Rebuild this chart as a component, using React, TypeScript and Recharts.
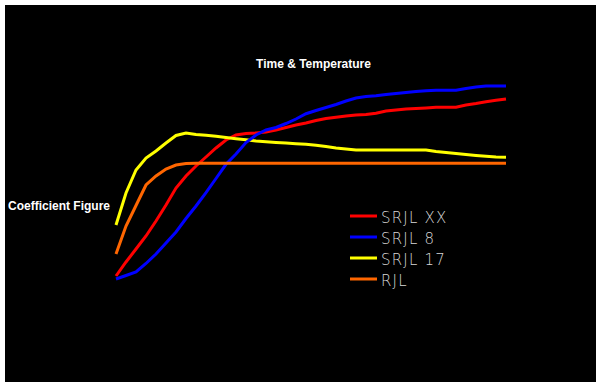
import React from 'react';
import { LineChart, Line, XAxis, YAxis, Legend } from 'recharts';

// x positions are sample indices (0..39), equal spacing along the time axis
const steps = Array.from({ length: 40 }, (_, i) => i);

const srjlXX = [104, 118, 131, 144, 159, 175, 192, 204, 214, 223, 232, 240, 245, 246.5, 247, 248, 250, 252.5, 255, 257, 259.5, 261.5, 262.7, 264, 265, 265.5, 266.7, 269, 270, 271, 271.5, 272, 272.7, 272.7, 272.7, 275, 276.5, 278.3, 279.7, 281];
const srjl8 = [101, 104.5, 108, 116.5, 126, 137, 148, 161.5, 174, 187.4, 201.5, 215.7, 226, 237.5, 245, 250, 252.5, 256.5, 261, 266.3, 269.5, 272.5, 275.5, 279, 282, 283.5, 284.3, 285.5, 286.5, 287.5, 288.5, 289.2, 289.7, 289.7, 289.7, 291.5, 293, 294, 294, 294];
const srjl17 = [155, 187, 210, 222, 229, 237, 244.5, 247, 245.5, 244.7, 243.7, 242.5, 241.3, 240.3, 239, 238.2, 237.5, 237, 236.3, 235.7, 234.7, 233.4, 232, 231, 230, 230, 230, 230, 230, 230, 230, 230, 228.5, 227.5, 226.5, 225.5, 224.5, 223.7, 223, 222.7];
const rjl = [126, 154, 174.5, 195, 204, 211, 215, 216.5, 216.7, 216.7, 216.7, 216.7, 216.7, 216.7, 216.7, 216.7, 216.7, 216.7, 216.7, 216.7, 216.7, 216.7, 216.7, 216.7, 216.7, 216.7, 216.7, 216.7, 216.7, 216.7, 216.7, 216.7, 216.7, 216.7, 216.7, 216.7, 216.7, 216.7, 216.7, 216.7];

const seriesNames = ['SRJL XX', 'SRJL 8', 'SRJL 17', 'RJL'];
const seriesColors = ['#ff0000', '#0000ff', '#ffff00', '#ff6600'];
const seriesKeys = ['xx', 's8', 's17', 'rjl'];

const title = 'Time & Temperature';
const yTitle = 'Coefficient Figure';

const data = steps.map((t, i) => ({
  t,
  xx: srjlXX[i],
  s8: srjl8[i],
  s17: srjl17[i],
  rjl: rjl[i],
}));

const LegendContent = () => (
  <svg width={130} height={90} style={{ display: 'block', overflow: 'visible' }}>
    {seriesNames.map((name, i) => (
      <g key={name}>
        <line x1={0} x2={27} y1={9 + i * 21} y2={9 + i * 21} stroke={seriesColors[i]} strokeWidth={3} />
        <text
          x={31}
          y={16 + i * 21}
          fill="#d8d8d8"
          fontFamily="DejaVu Sans"
          fontWeight={200}
          fontSize={15}
          letterSpacing={1.2}
        >
          {name}
        </text>
      </g>
    ))}
  </svg>
);

const drawOrder = [0, 2, 1, 3];

export default function App() {
  return (
    <div style={{ position: 'fixed', left: 0, top: 0, width: 601, height: 386, background: '#ffffff' }}>
      <div style={{ position: 'absolute', left: 5, top: 5, width: 591, height: 377, background: '#000000' }} />
      <div style={{ position: 'absolute', left: 0, top: 0 }}>
        <LineChart width={601} height={386} data={data} margin={{ top: 80, right: 95, bottom: 6, left: 116 }}>
          <XAxis dataKey="t" type="number" domain={[0, 39]} hide />
          <YAxis type="number" domain={[0, 300]} hide />
          {drawOrder.map((i) => (
            <Line
              key={seriesKeys[i]}
              dataKey={seriesKeys[i]}
              name={seriesNames[i]}
              stroke={seriesColors[i]}
              strokeWidth={3}
              dot={false}
              type="linear"
              isAnimationActive={false}
            />
          ))}
          <Legend
            layout="vertical"
            content={<LegendContent />}
            wrapperStyle={{ position: 'absolute', left: 350, top: 207, width: 0, height: 0, overflow: 'visible' }}
          />
        </LineChart>
      </div>
      <svg width={601} height={386} style={{ position: 'absolute', left: 0, top: 0, pointerEvents: 'none' }}>
        <text x={313.5} y={68} textAnchor="middle" fill="#ffffff" fontFamily="Liberation Sans, Arial" fontWeight="bold" fontSize={12}>
          {title}
        </text>
        <text x={8} y={210} fill="#ffffff" fontFamily="Liberation Sans, Arial" fontWeight="bold" fontSize={12}>
          {yTitle}
        </text>
      </svg>
    </div>
  );
}
